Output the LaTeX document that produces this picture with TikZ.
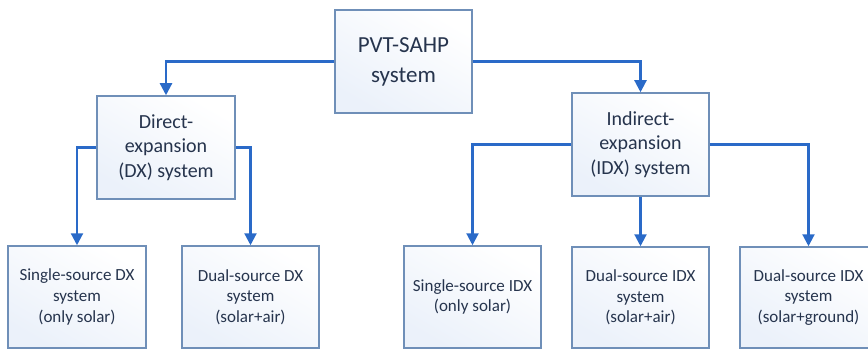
\documentclass[tikz,border=0pt]{standalone}
\usepackage{fontspec}
\setmainfont{Carlito}
\usetikzlibrary{arrows.meta}
\definecolor{boxline}{HTML}{6F8FB8}
\definecolor{arrowc}{HTML}{2A6AC8}
\definecolor{txt}{HTML}{26344D}
\definecolor{fillc}{HTML}{EBF1FA}
\tikzset{
  box/.style={draw=boxline, line width=1.5pt, inner sep=0pt, align=center,
    text=txt, left color=fillc, right color=white, shading angle=150,
    font=\fontsize{17}{20.7}\selectfont},
  bigbox/.style={box, font=\fontsize{23}{30}\selectfont},
  midbox/.style={box, font=\fontsize{20}{24.4}\selectfont},
  conn/.style={draw=arrowc, line width=2.2pt},
  arr/.style={conn, -{Triangle[length=12pt,width=12pt]}},
}
\begin{document}
\begin{tikzpicture}[x=1pt,y=-1pt]
\useasboundingbox (0,0) rectangle (868,350);
\clip (0,0) rectangle (868,350);
\node[bigbox, minimum width=137pt, minimum height=103pt] (top) at (403.5,61.5) {PVT-SAHP\\system};
\node[midbox, minimum width=138pt, minimum height=103pt] (dx) at (166,147.5) {Direct-\\expansion\\(DX) system};
\node[midbox, minimum width=137pt, minimum height=103pt] (idx) at (640.5,144.5) {Indirect-\\expansion\\(IDX) system};
\node[box, minimum width=138pt, minimum height=102pt] (b1) at (77,297) {Single-source DX\\system\\(only solar)};
\node[box, minimum width=137pt, minimum height=102pt] (b2) at (250.5,297) {Dual-source DX\\system\\(solar+air)};
\node[box, minimum width=137pt, minimum height=102pt] (b3) at (472.5,297) {Single-source IDX\\(only solar)};
\node[box, minimum width=137pt, minimum height=101pt] (b4) at (640.5,297.5) {Dual-source IDX\\system\\(solar+air)};
\node[box, minimum width=137pt, minimum height=101pt] (b5) at (808.5,297.5) {Dual-source IDX\\system\\(solar+ground)};
\draw[arr] (top.west) -| (dx.north);
\draw[arr] (top.east) -| (idx.north);
\draw[arr] (dx.west) -| (b1.north);
\draw[arr] (dx.east) -| (b2.north);
\draw[arr] (idx.west) -| (b3.north);
\draw[arr] (idx.east) -| (b5.north);
\draw[arr] (idx.south) -- (b4.north);
\end{tikzpicture}
\end{document}
